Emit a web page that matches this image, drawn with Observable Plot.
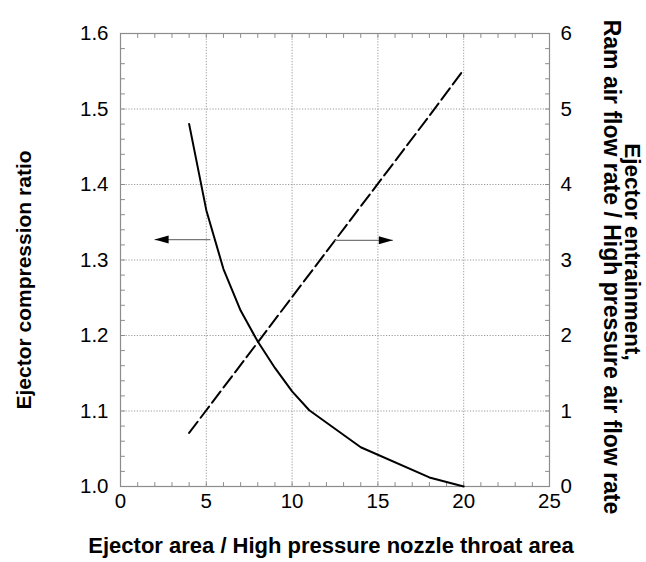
<!DOCTYPE html>
<html>
<head>
<meta charset="utf-8">
<script src="https://cdn.jsdelivr.net/npm/d3@7"></script>
<script src="https://cdn.jsdelivr.net/npm/@observablehq/plot@0.6"></script>
<style>
  html, body { margin: 0; padding: 0; background: #fff; }
  #chart svg { display: block; }
</style>
</head>
<body>
<div id="chart"></div>
<script>
// Ejector compression ratio vs. area ratio (left axis)
const areaRatio = [4, 5, 6, 7, 8, 9, 10, 11, 14, 18, 20];
const compressionRatio = [1.48, 1.366, 1.288, 1.233, 1.192, 1.157, 1.126, 1.101, 1.052, 1.012, 1.0];

// Ejector entrainment vs. area ratio (right axis)
const areaRatioEntrain = [4, 5, 6, 8, 10, 12, 14, 16, 18, 20];
const entrainment = [0.71, 1.01, 1.31, 1.91, 2.51, 3.11, 3.71, 4.31, 4.91, 5.52];

// Tick values
const xTicks = [0, 5, 10, 15, 20, 25];
const yLeftTicks = [1.0, 1.1, 1.2, 1.3, 1.4, 1.5, 1.6];
const yRightTicks = [0, 1, 2, 3, 4, 5, 6];

// Pointer arrows showing which curve belongs to which axis
const arrowLeft = {x1: 5.24, y1: 1.327, x2: 1.99, y2: 1.327};      // left-axis units
const arrowRight = {x1: 12.49, y1: 3.26, x2: 15.87, y2: 3.26};     // right-axis units

// Right axis (0–6) shares the plot height with the left axis (1.0–1.6)
const right = d3.scaleLinear([0, 6], [1.0, 1.6]);

const compression = areaRatio.map((a, i) => ({area: a, value: compressionRatio[i]}));
const entrain = areaRatioEntrain.map((a, i) => ({area: a, value: entrainment[i]}));
const arrows = [
  {x1: arrowLeft.x1, y1: arrowLeft.y1, x2: arrowLeft.x2, y2: arrowLeft.y2, rot: 180},
  {x1: arrowRight.x1, y1: right(arrowRight.y1), x2: arrowRight.x2, y2: right(arrowRight.y2), rot: 0}
];

// Filled arrowhead with its tip at the anchor point, pointing right
const arrowHead = {
  draw(context) {
    context.moveTo(0, 0);
    context.lineTo(-14, -4);
    context.lineTo(-14, 4);
    context.closePath();
  }
};

// Short inward tick, drawn upward from its anchor
const spike = {
  draw(context, l) {
    context.moveTo(0, 0);
    context.lineTo(0, -l);
  }
};

const axisGrey = "#8c8c8c";
const font = "'Liberation Sans', Arial, Helvetica, sans-serif";
const minorX = d3.range(0, 26, 1);
const minorYLeft = d3.range(100, 161, 2).map(v => v / 100);
const minorYRight = d3.range(0, 31, 1).map(v => right(v / 5));

const titleStyle = {fontWeight: "bold", fill: "#000", textAnchor: "middle", lineAnchor: "middle"};

const chart = Plot.plot({
  width: 646,
  height: 562,
  marginLeft: 120,
  marginRight: 97,
  marginTop: 33,
  marginBottom: 76,
  style: {fontFamily: font, background: "#fff", color: "#000"},
  x: {domain: [0, 25]},
  y: {domain: [1.0, 1.6]},
  marks: [
    // dotted grid
    Plot.gridX([5, 10, 15, 20], {stroke: "#9a9a9a", strokeOpacity: 1, strokeDasharray: "1.2,1.6"}),
    Plot.gridY([1.1, 1.2, 1.3, 1.4, 1.5], {stroke: "#9a9a9a", strokeOpacity: 1, strokeDasharray: "1.2,1.6"}),

    // inward minor ticks on all four sides
    Plot.vector(minorX, {x: d => d, frameAnchor: "bottom", length: 4, rotate: 0, anchor: "start", shape: spike, stroke: axisGrey, strokeWidth: 1}),
    Plot.vector(minorX, {x: d => d, frameAnchor: "top", length: 4, rotate: 180, anchor: "start", shape: spike, stroke: axisGrey, strokeWidth: 1}),
    Plot.vector(minorYLeft, {y: d => d, frameAnchor: "left", length: 4, rotate: 90, anchor: "start", shape: spike, stroke: axisGrey, strokeWidth: 1}),
    Plot.vector(minorYRight, {y: d => d, frameAnchor: "right", length: 4, rotate: -90, anchor: "start", shape: spike, stroke: axisGrey, strokeWidth: 1}),

    Plot.frame({stroke: axisGrey, strokeWidth: 1.2}),

    // tick labels
    Plot.axisX(xTicks, {anchor: "bottom", tickSize: 0, tickPadding: 7, fontSize: 20.5, label: null, tickFormat: d => d}),
    Plot.axisY(yLeftTicks, {anchor: "left", tickSize: 0, tickPadding: 12, fontSize: 20.5, label: null, tickFormat: d3.format(".1f")}),
    Plot.axisY(yRightTicks.map(right), {anchor: "right", tickSize: 0, tickPadding: 11, fontSize: 20.5, label: null, tickFormat: d => Math.round(right.invert(d))}),

    // curves
    Plot.line(compression, {x: "area", y: "value", stroke: "#000", strokeWidth: 2}),
    Plot.line(entrain, {x: "area", y: d => right(d.value), stroke: "#000", strokeWidth: 2, strokeDasharray: "14,5"}),

    // arrows
    Plot.link(arrows, {x1: "x1", y1: "y1", x2: "x2", y2: "y2", stroke: "#777", strokeWidth: 1.2}),
    Plot.dot(arrows, {x: "x2", y: "y2", symbol: arrowHead, rotate: "rot", fill: "#000", stroke: "none", r: 4}),

    // axis titles
    Plot.text(["Ejector area / High pressure nozzle throat area"], {
      ...titleStyle, frameAnchor: "bottom", dy: 59, dx: -4, fontSize: 22
    }),
    Plot.text(["Ejector compression ratio"], {
      ...titleStyle, frameAnchor: "left", dx: -96, dy: 20, rotate: -90, fontSize: 21
    }),
    Plot.text(["Ram air flow rate / High pressure air flow rate"], {
      ...titleStyle, frameAnchor: "right", dx: 62, dy: 7, rotate: 90, fontSize: 23
    }),
    Plot.text(["Ejector entrainment,"], {
      ...titleStyle, frameAnchor: "right", dx: 83, dy: -8, rotate: 90, fontSize: 22.5
    })
  ]
});

document.getElementById("chart").append(chart);
</script>
</body>
</html>
